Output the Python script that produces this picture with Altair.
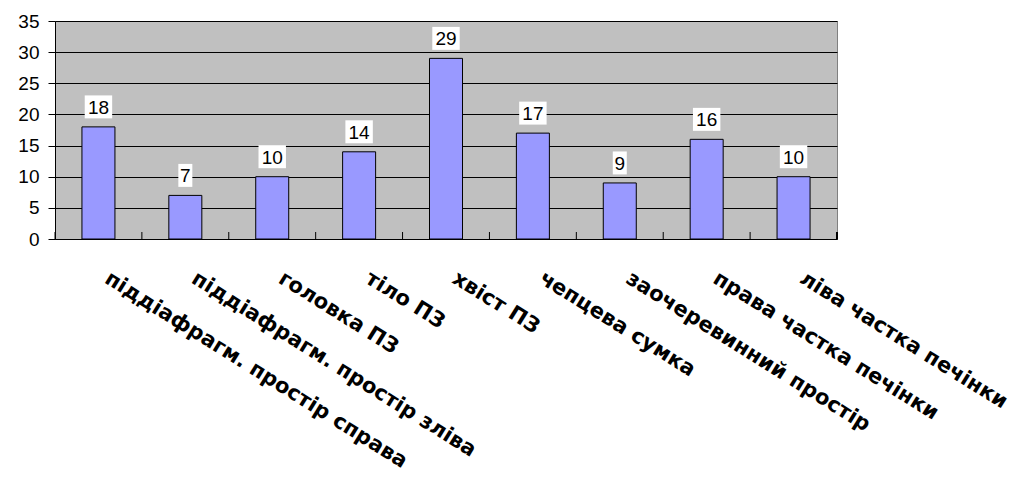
import altair as alt
import pandas as pd

categories = [
    "піддіафрагм. простір справа",
    "піддіафрагм. простір зліва",
    "головка ПЗ",
    "тіло ПЗ",
    "хвіст ПЗ",
    "чепцева сумка",
    "заочеревинний простір",
    "права частка печінки",
    "ліва частка печінки",
]
values = [18, 7, 10, 14, 29, 17, 9, 16, 10]
y_ticks = [0, 5, 10, 15, 20, 25, 30, 35]

df = pd.DataFrame({"cat": categories, "value": values})

W, H = 782, 218

xscale = alt.Scale(domain=categories, paddingInner=0, paddingOuter=0)
yscale = alt.Scale(domain=[0, 35], nice=False)

x_axis = alt.Axis(
    labelAngle=32, labelAlign="left", labelBaseline="top",
    labelFont="DejaVu Sans", labelFontWeight="bold", labelFontSize=21,
    labelColor="black", labelPadding=28, labelOffset=14,
    ticks=False, tickSize=0, domainColor="black", domainWidth=1,
    grid=False, labelLimit=1000, labelOverlap=False,
)
y_axis = alt.Axis(
    values=y_ticks, labelFont="Liberation Sans", labelFontSize=19,
    labelColor="black", tickSize=7, tickColor="black", labelPadding=9,
    domainColor="black", gridColor="black", gridOpacity=1, gridWidth=1,
    labelOverlap=False,
)

x_enc = alt.X("cat:N", sort=categories, scale=xscale, title=None, axis=x_axis)
y_enc = alt.Y("value:Q", scale=yscale, title=None, axis=y_axis)

bars = alt.Chart(df).mark_bar(
    size=33, color="#9999FF", stroke="black", strokeWidth=1
).encode(x=x_enc, y=y_enc)

ticks = alt.Chart(df).mark_rule(color="black", strokeWidth=1).encode(
    x=alt.X("cat:N", sort=categories, scale=xscale, bandPosition=0, axis=x_axis, title=None),
    y=alt.value(H), y2=alt.value(H - 7),
)
end_tick = alt.Chart(df).mark_rule(color="black", strokeWidth=1).encode(
    x=alt.value(W), y=alt.value(H), y2=alt.value(H - 7)
)

wide_box = "M-0.98,-0.82L0.98,-0.82L0.98,0.82L-0.98,0.82Z"
narrow_box = "M-0.5,-0.82L0.5,-0.82L0.5,0.82L-0.5,0.82Z"

boxes = alt.Chart(df).mark_point(
    filled=True, fill="white", strokeWidth=0, opacity=1, size=784, yOffset=-20
).encode(
    x=x_enc,
    y=y_enc,
    shape=alt.condition("datum.value < 10", alt.value(narrow_box), alt.value(wide_box)),
)

labels = alt.Chart(df).mark_text(
    font="Liberation Sans", fontSize=19, color="black", baseline="middle",
    align="center", yOffset=-19
).encode(
    x=x_enc,
    y=y_enc,
    text="value:Q",
)

chart = alt.layer(bars, ticks, end_tick, boxes, labels).properties(
    width=W, height=H,
    padding={"left": 55, "top": 21, "right": 1016 - 55 - W, "bottom": 487 - 21 - H},
    autosize=alt.AutoSizeParams(type="none"),
    background="white",
).configure_view(
    fill="#C0C0C0", stroke="#808080", strokeWidth=1
)

chart.save("out.html", embed_options={"renderer": "svg", "actions": False})
